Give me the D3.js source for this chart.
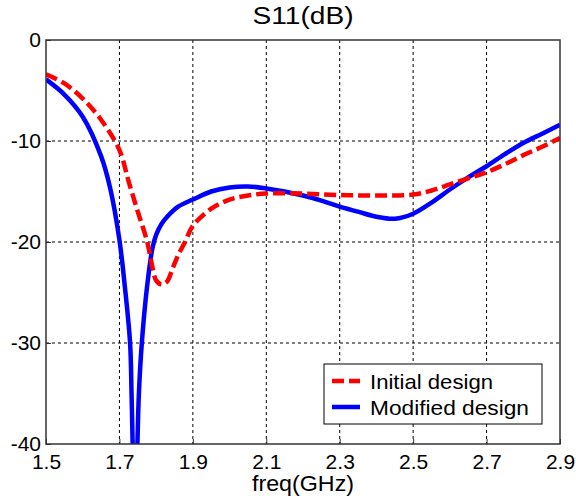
<!DOCTYPE html>
<html><head><meta charset="utf-8">
<script src="https://cdn.jsdelivr.net/npm/d3@7"></script>
<style>body{margin:0;background:#fff}svg{display:block;font-family:"Liberation Sans",Arial,sans-serif}</style>
</head><body><svg id="c" width="576" height="501"></svg>
<script>
const titleText = "S11(dB)";
const xLabel = "freq(GHz)";
const xTicks = [1.5, 1.7, 1.9, 2.1, 2.3, 2.5, 2.7, 2.9];
const yTicks = [0, -10, -20, -30, -40];
const seriesNames = ["Initial design", "Modified design"];

const freqInit = [1.50,1.55,1.60,1.65,1.70,1.725,1.75,1.775,1.79,1.80,1.815,1.83,1.845,1.86,1.88,1.90,1.95,2.00,2.05,2.10,2.20,2.30,2.40,2.50,2.55,2.60,2.65,2.70,2.75,2.80,2.85,2.90];
const s11Init  = [-3.4,-4.3,-5.8,-7.9,-10.9,-14.0,-17.0,-19.9,-22.5,-23.8,-24.2,-23.9,-22.6,-21.3,-19.9,-18.4,-16.7,-15.8,-15.4,-15.2,-15.2,-15.35,-15.4,-15.3,-14.9,-14.3,-13.7,-13.1,-12.3,-11.4,-10.6,-9.7];

const freqMod = [1.50,1.55,1.60,1.65,1.675,1.70,1.715,1.729,1.733,1.736,1.742,1.749,1.753,1.761,1.775,1.79,1.80,1.815,1.83,1.86,1.90,1.95,2.00,2.05,2.10,2.15,2.20,2.25,2.30,2.35,2.40,2.45,2.50,2.55,2.60,2.65,2.70,2.75,2.80,2.85,2.90];
const s11Mod  = [-3.9,-5.4,-7.6,-11.5,-14.7,-19.8,-24.5,-30,-35,-40,-50,-40,-35,-30,-24.5,-20.6,-19.3,-18.2,-17.5,-16.5,-15.8,-15.0,-14.6,-14.5,-14.7,-15.0,-15.4,-15.9,-16.5,-17.0,-17.5,-17.7,-17.2,-16.1,-14.8,-13.6,-12.5,-11.3,-10.2,-9.3,-8.4];

const svg = d3.select("#c");
const L = 46, R = 560, T = 40, B = 444;
const x = d3.scaleLinear().domain([1.5, 2.9]).range([L, R]);
const y = d3.scaleLinear().domain([-40, 0]).range([B, T]);

// grid
const grid = svg.append("g");
grid.selectAll(".gx").data(xTicks.slice(1, -1)).join("line")
  .attr("x1", d => x(d)).attr("x2", d => x(d)).attr("y1", T).attr("y2", B)
  .attr("stroke", "#000").attr("stroke-width", 1).attr("stroke-dasharray", "3,3");
grid.selectAll(".gy").data(yTicks.slice(1, -1)).join("line")
  .attr("x1", L).attr("x2", R).attr("y1", d => y(d)).attr("y2", d => y(d))
  .attr("stroke", "#000").attr("stroke-width", 1).attr("stroke-dasharray", "3,3");

svg.append("clipPath").attr("id", "clip").append("rect")
  .attr("x", L).attr("y", T).attr("width", R - L).attr("height", B - T);

const line = d3.line().x(d => x(d[0])).y(d => y(d[1])).curve(d3.curveCatmullRom.alpha(0.5));
const plot = svg.append("g").attr("clip-path", "url(#clip)");
plot.append("path").datum(d3.zip(freqMod, s11Mod)).attr("d", line)
  .attr("fill", "none").attr("stroke", "#0000ff").attr("stroke-width", 4.5).attr("stroke-linejoin", "round");
plot.append("path").datum(d3.zip(freqInit, s11Init)).attr("d", line)
  .attr("fill", "none").attr("stroke", "#ff0000").attr("stroke-width", 4.5).attr("stroke-dasharray", "12,5");

// axes
const xAxis = d3.axisBottom(x).tickValues(xTicks).tickSize(-5).tickPadding(10).tickFormat(d3.format(".1f"));
const gx = svg.append("g").attr("transform", `translate(0,${B})`).call(xAxis);
gx.select(".domain").remove();
gx.selectAll("line").attr("stroke", "#333");
gx.selectAll("text").attr("font-size", 21).attr("fill", "#000").attr("font-family", "Liberation Sans, Arial, sans-serif");

const yAxis = d3.axisLeft(y).tickValues(yTicks).tickSize(-5).tickPadding(5).tickFormat(d => String(d));
const gy = svg.append("g").attr("transform", `translate(${L},0)`).call(yAxis);
gy.select(".domain").remove();
gy.selectAll("line").attr("stroke", "#333");
gy.selectAll("text").attr("font-size", 21).attr("fill", "#000").attr("font-family", "Liberation Sans, Arial, sans-serif");

// box
svg.append("rect").attr("x", L).attr("y", T).attr("width", R - L).attr("height", B - T)
  .attr("fill", "none").attr("stroke", "#333").attr("stroke-width", 1.5);

// title and label
svg.append("text").attr("x", (L + R) / 2).attr("y", 24).attr("text-anchor", "middle")
  .attr("font-size", 23).attr("textLength", 101).attr("lengthAdjust", "spacingAndGlyphs").text(titleText);
svg.append("text").attr("x", (L + R) / 2).attr("y", 491).attr("text-anchor", "middle")
  .attr("font-size", 22).attr("textLength", 102).attr("lengthAdjust", "spacingAndGlyphs").text(xLabel);

// legend
const lg = svg.append("g");
lg.append("rect").attr("x", 324).attr("y", 364).attr("width", 218).attr("height", 60)
  .attr("fill", "#fff").attr("stroke", "#000").attr("stroke-width", 1);
const styles = [{c: "#ff0000", dash: "12,5", w: 123}, {c: "#0000ff", dash: null, w: 159}];
seriesNames.forEach((n, i) => {
  const yy = 381 + i * 26;
  lg.append("line").attr("x1", 332).attr("x2", 360).attr("y1", yy).attr("y2", yy)
    .attr("stroke", styles[i].c).attr("stroke-width", 4.5).attr("stroke-dasharray", styles[i].dash);
  lg.append("text").attr("x", 370).attr("y", yy + 7.5).attr("font-size", 21)
    .attr("textLength", styles[i].w).attr("lengthAdjust", "spacingAndGlyphs").text(n);
});
</script></body></html>
